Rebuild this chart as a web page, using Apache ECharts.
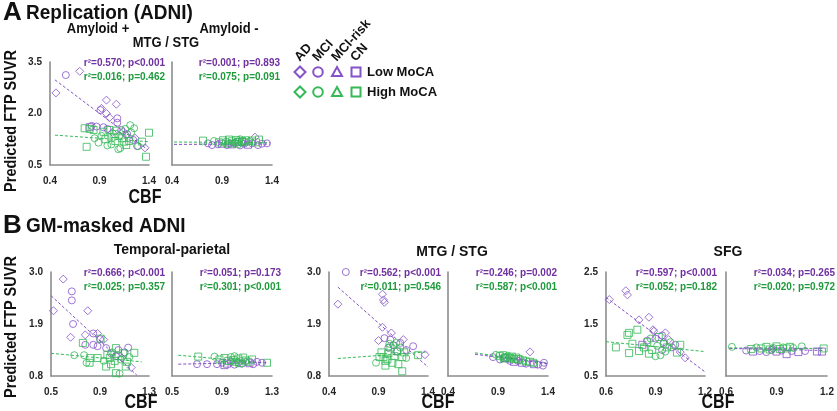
<!DOCTYPE html>
<html><head><meta charset="utf-8">
<script src="https://cdn.jsdelivr.net/npm/echarts@6/dist/echarts.min.js"></script>
<style>html,body{margin:0;padding:0;background:#fff}#c{width:837px;height:411px}</style>
</head><body><div id="c"></div>
<script>
// ---------- DATA ----------
// Each point: [CBF, predicted FTP SUVR, group]  group: AD / MCI / RISK (MCI-risk) / CN
const aAmyPosLow = [[0.46,2.60,'AD'],[0.56,3.12,'MCI'],[0.70,3.23,'AD'],[0.97,2.39,'AD'],[1.07,2.27,'AD'],[0.92,2.15,'AD'],[0.91,2.10,'MCI'],[0.97,2.00,'AD'],[1.00,1.88,'AD'],[1.08,1.86,'MCI'],[1.08,1.73,'MCI'],[0.82,1.64,'MCI'],[0.87,1.62,'MCI'],[0.94,1.60,'MCI'],[1.12,1.52,'MCI'],[1.14,1.47,'AD'],[1.17,1.37,'AD'],[1.26,1.28,'AD'],[1.36,1.00,'AD'],[1.24,1.23,'MCI'],[1.28,1.05,'MCI'],[0.80,1.60,'CN'],[1.03,1.45,'AD'],[0.98,1.55,'MCI'],[1.18,1.40,'MCI']];
const aAmyPosHigh = [[0.77,1.03,'CN'],[0.75,1.57,'CN'],[0.80,1.55,'CN'],[0.84,1.52,'CN'],[0.89,1.15,'MCI'],[0.94,1.47,'CN'],[0.98,1.07,'MCI'],[1.00,1.52,'CN'],[1.02,1.30,'CN'],[0.96,1.25,'CN'],[1.05,1.40,'CN'],[1.06,1.20,'CN'],[1.09,0.96,'MCI'],[1.11,0.99,'MCI'],[1.10,1.35,'MCI'],[1.13,1.28,'CN'],[1.15,1.18,'CN'],[1.17,1.08,'CN'],[1.20,1.20,'CN'],[1.21,1.66,'MCI'],[1.25,1.57,'MCI'],[1.22,1.45,'MCI'],[1.29,1.05,'MCI'],[1.33,1.18,'CN'],[1.37,0.74,'CN'],[1.40,1.44,'CN'],[0.92,1.35,'MCI'],[1.02,1.10,'MCI'],[1.07,1.50,'CN'],[0.85,1.28,'MCI'],[1.16,1.55,'MCI']];
const aAmyNegLow = [[0.76,1.13,'MCI'],[0.80,1.08,'MCI'],[0.86,1.10,'MCI'],[0.90,1.12,'CN'],[0.95,1.08,'MCI'],[1.00,1.10,'CN'],[1.03,1.14,'MCI'],[1.08,1.07,'MCI'],[1.12,1.12,'MCI'],[1.16,1.09,'CN'],[1.20,1.13,'MCI'],[1.23,1.31,'AD'],[1.26,1.08,'MCI'],[1.30,1.12,'MCI'],[1.35,1.13,'MCI'],[0.98,1.15,'RISK'],[1.10,1.17,'CN']];
const aAmyNegHigh = [[0.71,1.21,'CN'],[0.82,1.20,'MCI'],[0.87,1.16,'CN'],[0.91,1.22,'CN'],[0.94,1.18,'MCI'],[0.97,1.24,'CN'],[1.00,1.19,'CN'],[1.02,1.15,'MCI'],[1.04,1.23,'CN'],[1.06,1.17,'CN'],[1.08,1.25,'MCI'],[1.10,1.20,'CN'],[1.12,1.16,'CN'],[1.14,1.22,'CN'],[1.17,1.18,'MCI'],[1.20,1.21,'CN'],[1.24,1.16,'CN'],[1.27,1.24,'CN'],[0.96,1.12,'CN'],[1.05,1.12,'CN']];

const tpPosLow = [[0.60,2.85,'AD'],[0.67,2.59,'MCI'],[0.67,2.40,'MCI'],[0.52,2.18,'AD'],[0.80,2.18,'AD'],[0.68,1.90,'MCI'],[0.66,1.62,'AD'],[0.78,1.67,'AD'],[0.845,1.70,'MCI'],[0.88,1.70,'AD'],[0.90,1.58,'MCI'],[0.93,1.57,'AD'],[0.845,1.46,'MCI'],[0.78,1.46,'MCI'],[0.88,1.43,'MCI'],[0.95,1.39,'MCI'],[1.13,1.40,'MCI'],[1.155,0.98,'AD'],[0.99,1.28,'MCI'],[1.03,1.22,'MCI'],[1.08,1.18,'AD'],[1.10,1.30,'MCI'],[1.05,1.35,'MCI']];
const tpPosHigh = [[0.76,1.50,'CN'],[0.905,1.59,'CN'],[1.03,1.39,'CN'],[1.18,1.29,'CN'],[0.69,1.24,'MCI'],[0.77,1.24,'MCI'],[0.82,1.18,'CN'],[0.815,1.08,'CN'],[0.79,1.08,'MCI'],[0.95,1.00,'CN'],[1.03,0.86,'CN'],[1.06,0.85,'MCI'],[1.11,1.00,'CN'],[0.96,1.25,'CN'],[0.98,1.18,'CN'],[1.00,1.30,'MCI'],[1.02,1.12,'CN'],[1.05,1.22,'CN'],[1.07,1.15,'MCI'],[1.09,1.28,'CN'],[1.12,1.10,'CN'],[0.93,1.12,'MCI'],[0.99,1.05,'CN'],[1.14,1.20,'MCI'],[0.88,1.18,'CN']];
const tpNegLow = [[0.70,1.05,'MCI'],[0.78,1.05,'MCI'],[0.86,1.05,'MCI'],[0.90,1.08,'MCI'],[0.94,1.06,'CN'],[0.97,1.10,'MCI'],[1.00,1.04,'MCI'],[1.03,1.08,'MCI'],[1.06,1.06,'MCI'],[1.09,1.10,'AD'],[1.12,1.07,'CN'],[1.18,1.10,'MCI'],[1.22,1.08,'MCI'],[0.92,1.03,'CN'],[1.15,1.05,'MCI']];
const tpNegHigh = [[0.71,1.21,'CN'],[0.84,1.21,'MCI'],[0.88,1.15,'CN'],[0.92,1.18,'CN'],[0.95,1.12,'CN'],[0.97,1.20,'MCI'],[0.99,1.14,'CN'],[1.01,1.10,'CN'],[1.03,1.17,'CN'],[1.05,1.12,'MCI'],[1.07,1.19,'CN'],[1.09,1.13,'CN'],[1.11,1.10,'CN'],[1.14,1.15,'CN'],[1.26,1.08,'CN'],[1.00,1.22,'MCI'],[1.04,1.07,'CN']];

const mtgPosLow = [[0.57,3.0,'MCI'],[0.49,2.32,'AD'],[0.94,2.53,'AD'],[0.95,2.41,'AD'],[0.96,2.36,'AD'],[0.94,1.83,'AD'],[1.03,1.71,'AD'],[1.02,1.57,'MCI'],[0.90,1.55,'AD'],[0.96,1.60,'MCI'],[1.15,1.57,'AD'],[1.25,1.43,'MCI'],[1.37,1.25,'AD'],[1.09,1.32,'MCI'],[1.05,1.45,'MCI'],[1.12,1.50,'MCI'],[1.00,1.40,'MCI'],[1.18,1.35,'MCI']];
const mtgPosHigh = [[0.875,1.08,'MCI'],[0.93,1.30,'CN'],[0.95,1.20,'CN'],[0.97,1.12,'CN'],[0.97,1.02,'CN'],[1.00,1.28,'CN'],[1.02,1.40,'CN'],[1.05,1.45,'MCI'],[1.06,1.22,'CN'],[1.09,1.32,'CN'],[1.14,1.20,'CN'],[1.14,0.90,'CN'],[1.30,1.24,'CN'],[1.18,1.18,'MCI'],[1.01,1.48,'MCI'],[1.08,1.50,'MCI'],[1.12,1.40,'MCI'],[0.99,1.15,'CN'],[1.04,1.08,'CN'],[1.10,1.05,'CN'],[0.91,1.20,'CN'],[1.16,1.30,'CN']];
const mtgNegLow = [[0.85,1.20,'MCI'],[0.92,1.15,'MCI'],[0.97,1.18,'CN'],[1.02,1.12,'MCI'],[1.06,1.10,'CN'],[1.10,1.12,'MCI'],[1.14,1.08,'CN'],[1.18,1.06,'MCI'],[1.22,1.31,'AD'],[1.26,1.05,'CN'],[1.30,1.04,'MCI'],[1.35,1.02,'MCI'],[1.36,1.08,'MCI'],[1.00,1.16,'MCI']];
const mtgNegHigh = [[0.88,1.25,'MCI'],[0.92,1.22,'CN'],[0.95,1.24,'CN'],[0.98,1.20,'CN'],[1.00,1.23,'MCI'],[1.02,1.18,'CN'],[1.04,1.21,'CN'],[1.06,1.16,'CN'],[1.08,1.19,'CN'],[1.10,1.15,'CN'],[1.12,1.17,'MCI'],[1.15,1.13,'CN'],[1.18,1.11,'CN'],[1.22,1.10,'CN'],[1.25,1.08,'CN'],[0.96,1.17,'CN']];

const sfgPosLow = [[0.62,1.97,'AD'],[0.72,2.14,'AD'],[0.73,2.06,'AD'],[0.80,1.58,'AD'],[0.86,1.63,'AD'],[0.885,1.39,'AD'],[0.89,1.36,'AD'],[0.96,1.33,'AD'],[0.94,1.28,'MCI'],[1.08,0.85,'AD'],[1.05,0.96,'AD'],[0.85,1.18,'MCI'],[0.90,1.22,'MCI'],[0.95,1.15,'MCI'],[0.98,1.20,'AD'],[1.00,1.05,'MCI'],[0.82,1.10,'CN'],[0.94,1.00,'MCI'],[1.02,1.10,'MCI']];
const sfgPosHigh = [[0.66,1.05,'CN'],[0.73,1.29,'CN'],[0.74,1.33,'CN'],[0.79,1.39,'CN'],[0.74,0.94,'CN'],[1.05,1.10,'CN'],[0.90,0.88,'MCI'],[0.93,0.90,'MCI'],[0.76,1.12,'CN'],[0.80,0.98,'CN'],[0.83,1.05,'CN'],[0.85,1.15,'CN'],[0.87,1.22,'MCI'],[0.88,1.00,'CN'],[0.91,1.08,'MCI'],[0.92,1.25,'CN'],[0.95,1.12,'MCI'],[0.97,1.05,'CN'],[0.99,1.15,'MCI'],[1.03,0.95,'CN'],[0.86,0.93,'CN'],[0.96,0.97,'MCI']];
const sfgNegLow = [[0.72,0.99,'MCI'],[0.76,0.97,'CN'],[0.80,0.98,'MCI'],[0.84,0.96,'MCI'],[0.87,1.00,'MCI'],[0.90,0.97,'CN'],[0.93,0.99,'MCI'],[0.96,0.92,'CN'],[0.99,0.98,'MCI'],[1.03,0.96,'CN'],[1.07,0.98,'MCI'],[1.14,0.97,'CN'],[1.17,0.97,'CN'],[0.88,1.02,'AD']];
const sfgNegHigh = [[0.635,1.06,'MCI'],[0.75,1.02,'CN'],[0.78,1.05,'MCI'],[0.81,1.03,'CN'],[0.84,1.06,'CN'],[0.86,1.01,'CN'],[0.88,1.04,'MCI'],[0.90,1.07,'CN'],[0.92,1.02,'CN'],[0.94,1.05,'MCI'],[0.96,1.03,'CN'],[0.98,1.06,'CN'],[1.00,1.04,'MCI'],[1.05,1.07,'MCI'],[1.18,1.03,'CN']];

// regression lines (endpoints)
const fitAmyPosLow = [[0.45,2.98],[1.39,0.94]], fitAmyPosHigh = [[0.45,1.37],[1.39,1.18]];
const fitAmyNegLow = [[0.42,1.10],[1.38,1.11]], fitAmyNegHigh = [[0.42,1.17],[1.38,1.15]];
const fitTpPosLow = [[0.50,2.50],[1.20,0.82]], fitTpPosHigh = [[0.50,1.28],[1.24,1.10]];
const fitTpNegLow = [[0.55,1.05],[1.26,1.09]], fitTpNegHigh = [[0.55,1.24],[1.26,1.07]];
const fitMtgPosLow = [[0.49,2.68],[1.40,0.99]], fitMtgPosHigh = [[0.49,1.17],[1.40,1.31]];
const fitMtgNegLow = [[0.67,1.26],[1.39,1.06]], fitMtgNegHigh = [[0.67,1.29],[1.39,1.07]];
const fitSfgPosLow = [[0.60,2.01],[1.20,0.58]], fitSfgPosHigh = [[0.60,1.16],[1.20,0.97]];
const fitSfgNegLow = [[0.62,1.03],[1.18,0.99]], fitSfgNegHigh = [[0.62,1.04],[1.18,1.03]];

// tick labels
const xTicksA = [0.4,0.9,1.4], yTicksA = [0.5,2.0,3.5];
const xTicksTP = [0.5,0.9,1.3], yTicksTP = [0.8,1.9,3.0];
const xTicksMTG = [0.4,0.9,1.4], yTicksMTG = [0.8,1.9,3.0];
const xTicksSFG = [0.6,0.9,1.2], yTicksSFG = [0.5,1.5,2.5];

// statistics text
const statsAmyPos = ['r²=0.570; p<0.001','r²=0.016; p=0.462'];
const statsAmyNeg = ['r²=0.001; p=0.893','r²=0.075; p=0.091'];
const statsTpPos = ['r²=0.666; p<0.001','r²=0.025; p=0.357'];
const statsTpNeg = ['r²=0.051; p=0.173','r²=0.301; p<0.001'];
const statsMtgPos = ['r²=0.562; p<0.001','r²=0.011; p=0.546'];
const statsMtgNeg = ['r²=0.246; p=0.002','r²=0.587; p<0.001'];
const statsSfgPos = ['r²=0.597; p<0.001','r²=0.052; p=0.182'];
const statsSfgNeg = ['r²=0.034; p=0.265','r²=0.020; p=0.972'];

const groups = ['AD','MCI','MCI-risk','CN'];
const rowLabels = ['Low MoCA','High MoCA'];

// ---------- STYLE / LAYOUT ----------
const PURPLE = '#8552c8', GREEN = '#35b957', PURPLE_T = '#7030a0', GREEN_T = '#1f9a3c';
const FONT = 'Arial, "Liberation Sans", sans-serif';
const SHAPES = {AD:'path://M5,0L10,5L5,10L0,5Z', MCI:'circle', RISK:'triangle', CN:'rect'};
const SIZES = {AD:8, MCI:7, RISK:7, CN:7};

const panels = [
  {g:[50,62,99,103], x:[0.4,1.4], xt:xTicksA, y:[0.5,3.5], yt:yTicksA, showY:true, low:aAmyPosLow, high:aAmyPosHigh, fl:fitAmyPosLow, fh:fitAmyPosHigh, st:statsAmyPos, sr:165, sy:63},
  {g:[172,62,100,103], x:[0.4,1.4], xt:xTicksA, y:[0.5,3.5], yt:yTicksA, showY:false, low:aAmyNegLow, high:aAmyNegHigh, fl:fitAmyNegLow, fh:fitAmyNegHigh, st:statsAmyNeg, sr:280, sy:63},
  {g:[51,272,98,104], x:[0.5,1.3], xt:xTicksTP, y:[0.8,3.0], yt:yTicksTP, showY:true, low:tpPosLow, high:tpPosHigh, fl:fitTpPosLow, fh:fitTpPosHigh, st:statsTpPos, sr:165, sy:273},
  {g:[172,272,100,104], x:[0.5,1.3], xt:xTicksTP, y:[0.8,3.0], yt:yTicksTP, showY:false, low:tpNegLow, high:tpNegHigh, fl:fitTpNegLow, fh:fitTpNegHigh, st:statsTpNeg, sr:281, sy:273},
  {g:[329,272,99,104], x:[0.4,1.4], xt:xTicksMTG, y:[0.8,3.0], yt:yTicksMTG, showY:true, low:mtgPosLow, high:mtgPosHigh, fl:fitMtgPosLow, fh:fitMtgPosHigh, st:statsMtgPos, sr:441, sy:273},
  {g:[448,272,100,104], x:[0.4,1.4], xt:xTicksMTG, y:[0.8,3.0], yt:yTicksMTG, showY:false, low:mtgNegLow, high:mtgNegHigh, fl:fitMtgNegLow, fh:fitMtgNegHigh, st:statsMtgNeg, sr:557, sy:273},
  {g:[606,272,99,104], x:[0.6,1.2], xt:xTicksSFG, y:[0.5,2.5], yt:yTicksSFG, showY:true, low:sfgPosLow, high:sfgPosHigh, fl:fitSfgPosLow, fh:fitSfgPosHigh, st:statsSfgPos, sr:717, sy:273},
  {g:[726,272,101,104], x:[0.6,1.2], xt:xTicksSFG, y:[0.5,2.5], yt:yTicksSFG, showY:false, low:sfgNegLow, high:sfgNegHigh, fl:fitSfgNegLow, fh:fitSfgNegHigh, st:statsSfgNeg, sr:835, sy:273}
];

const axisLineStyle = {color:'#8c8c8c', width:1.6};
const labelStyle = {fontFamily:FONT, fontWeight:'bold', fontSize:10, color:'#262626'};

const grid = [], xAxis = [], yAxis = [], series = [], graphic = [];
function txt(x, y, text, size, opts) {
  opts = opts || {};
  graphic.push({type:'text', x:x, y:y, rotation:opts.rot || 0, scaleY:opts.sy || 1, silent:true,
    style:{text:text, font:'bold ' + size + 'px ' + FONT, fill:opts.fill || '#111',
      textAlign:opts.align || 'left', textVerticalAlign:opts.va || 'middle',
      align:opts.align || 'left', verticalAlign:opts.va || 'middle'}});
}

panels.forEach(function(p, i) {
  grid.push({left:p.g[0], top:p.g[1], width:p.g[2], height:p.g[3], containLabel:false});
  xAxis.push({type:'value', gridIndex:i, min:p.x[0], max:p.x[1],
    axisLine:{show:true, onZero:false, lineStyle:axisLineStyle}, axisTick:{show:false}, splitLine:{show:false},
    axisLabel:Object.assign({customValues:p.xt, margin:11, formatter:function(v){return v.toFixed(1);}}, labelStyle)});
  yAxis.push({type:'value', gridIndex:i, min:p.y[0], max:p.y[1],
    axisLine:{show:true, onZero:false, lineStyle:axisLineStyle}, axisTick:{show:false}, splitLine:{show:false},
    axisLabel:Object.assign({show:p.showY, customValues:p.yt, margin:8, formatter:function(v){return v.toFixed(1);}}, labelStyle)});
  [[p.fh, GREEN],[p.fl, PURPLE]].forEach(function(f) {
    series.push({type:'line', xAxisIndex:i, yAxisIndex:i, data:f[0], symbol:'none', silent:true, z:1,
      lineStyle:{color:f[1], width:1, type:[3,2]}});
  });
  [[p.low, PURPLE],[p.high, GREEN]].forEach(function(s, k) {
    series.push({type:'scatter', xAxisIndex:i, yAxisIndex:i, data:s[0], silent:true, z:2+k,
      dimensions:['x','y',{name:'g', type:'ordinal'}], encode:{x:0, y:1},
      symbol:function(v){return SHAPES[v[2]];}, symbolSize:function(v){return SIZES[v[2]];},
      itemStyle:{color:'rgba(255,255,255,0)', borderColor:s[1], borderWidth:1}});
  });
  txt(p.sr, p.sy, p.st[0], 10, {align:'right', fill:PURPLE_T});
  txt(p.sr, p.sy + 14, p.st[1], 10, {align:'right', fill:GREEN_T});
});

// headings
txt(3, 13, 'A', 26);
txt(26, 13, 'Replication (ADNI)', 19, {sy:1.1});
txt(98, 29, 'Amyloid +', 13, {align:'center', sy:1.1});
txt(229, 29, 'Amyloid -', 13, {align:'center', sy:1.1});
txt(166, 43, 'MTG / STG', 13, {align:'center', sy:1.1});
txt(12, 121, 'Predicted FTP SUVR', 14.5, {align:'center', rot:Math.PI/2, sy:1.1});
txt(145, 197, 'CBF', 16, {align:'center', sy:1.25});
txt(3, 226, 'B', 26);
txt(26, 226, 'GM-masked ADNI', 19, {sy:1.1});
txt(172, 250, 'Temporal-parietal', 14, {align:'center'});
txt(452, 252, 'MTG / STG', 14, {align:'center'});
txt(728, 252, 'SFG', 14, {align:'center'});
txt(12, 327, 'Predicted FTP SUVR', 14.5, {align:'center', rot:Math.PI/2, sy:1.1});
txt(141, 402, 'CBF', 16, {align:'center', sy:1.25});
txt(438, 402, 'CBF', 16, {align:'center', sy:1.25});
txt(718, 402, 'CBF', 16, {align:'center', sy:1.25});

// legend
const legX = [300, 318, 337, 356];
const legLabX = [302, 320, 339, 358];
groups.forEach(function(gname, j) {
  txt(legLabX[j], 64, gname, 13, {va:'bottom', rot:Math.PI * 48 / 180});
});
[[72, PURPLE], [92, GREEN]].forEach(function(r, k) {
  const y = r[0], c = r[1], st = {fill:'none', stroke:c, lineWidth:2};
  graphic.push({type:'polygon', silent:true, shape:{points:[[legX[0],y-5.5],[legX[0]+5.5,y],[legX[0],y+5.5],[legX[0]-5.5,y]]}, style:st});
  graphic.push({type:'circle', silent:true, shape:{cx:legX[1], cy:y, r:4.8}, style:st});
  graphic.push({type:'polygon', silent:true, shape:{points:[[legX[2],y-5],[legX[2]+5,y+4],[legX[2]-5,y+4]]}, style:st});
  graphic.push({type:'rect', silent:true, shape:{x:legX[3]-4.5, y:y-4.5, width:9, height:9}, style:st});
  txt(367, y, rowLabels[k], 13);
});

const chart = echarts.init(document.getElementById('c'), null, {renderer:'canvas'});
chart.setOption({animation:false, backgroundColor:'#fff', grid:grid, xAxis:xAxis, yAxis:yAxis, series:series, graphic:graphic});
</script></body></html>
